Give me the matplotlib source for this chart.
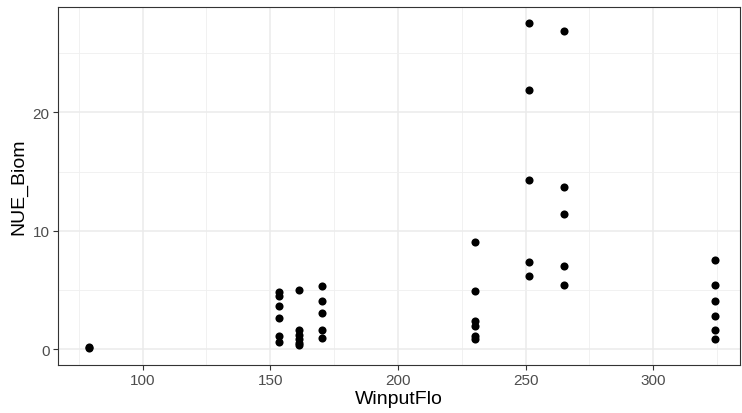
import matplotlib
matplotlib.use("Agg")
import matplotlib.pyplot as plt
from matplotlib.ticker import MultipleLocator, FixedLocator

plt.rcParams['font.family'] = ['Liberation Sans', 'DejaVu Sans']

# Data
x_79 = [79.1, 79.1]
y_79 = [0.05, 0.15]
x_153 = [153.6] * 6
y_153 = [4.84, 4.45, 3.61, 2.59, 1.07, 0.62]
x_161 = [161.1] * 6
y_161 = [5.0, 1.6, 1.2, 0.85, 0.55, 0.3]
x_170 = [170.1] * 5
y_170 = [5.35, 4.06, 3.02, 1.61, 0.93]
x_230 = [230.0] * 6
y_230 = [9.07, 4.9, 2.39, 1.97, 1.07, 0.82]
x_251 = [251.3] * 5
y_251 = [27.56, 21.9, 14.26, 7.38, 6.17]
x_265 = [264.9] * 5
y_265 = [26.9, 13.69, 11.38, 7.04, 5.38]
x_324 = [324.2] * 6
y_324 = [7.5, 5.44, 4.08, 2.82, 1.58, 0.85]

xs = x_79 + x_153 + x_161 + x_170 + x_230 + x_251 + x_265 + x_324
ys = y_79 + y_153 + y_161 + y_170 + y_230 + y_251 + y_265 + y_324

x_ticks = [100, 150, 200, 250, 300]
y_ticks = [0, 10, 20]
x_label = "WinputFlo"
y_label = "NUE_Biom"

W, H = 742, 414
fig = plt.figure(figsize=(W / 100, H / 100), dpi=100)
left, right, top, bottom = 58, 740, 8, 366
ax = fig.add_axes([left / W, (H - bottom) / H, (right - left) / W, (bottom - top) / H])

ax.set_facecolor('white')
ax.scatter(xs, ys, s=34, color='black', linewidths=0, zorder=3)

ax.set_xlim(66.85, 334.0)
ax.set_ylim(-1.35, 28.9)

ax.xaxis.set_major_locator(FixedLocator(x_ticks))
ax.yaxis.set_major_locator(FixedLocator(y_ticks))
ax.xaxis.set_minor_locator(MultipleLocator(25))
ax.yaxis.set_minor_locator(MultipleLocator(5))

ax.grid(which='major', color='#EBEBEB', linewidth=1.1, zorder=0)
ax.grid(which='minor', color='#EFEFEF', linewidth=0.6, zorder=0)
ax.set_axisbelow(True)

for s in ax.spines.values():
    s.set_color('#333333')
    s.set_linewidth(0.8)

ax.tick_params(which='major', length=3.5, width=0.8, color='#333333',
               labelcolor='#4D4D4D', labelsize=11, pad=2.5)
ax.tick_params(which='minor', length=0)

ax.set_xlabel(x_label, fontsize=14, color='black', labelpad=2)
ax.set_ylabel(y_label, fontsize=14, color='black', labelpad=4)

fig.savefig("out.png", dpi=100, facecolor='white')
